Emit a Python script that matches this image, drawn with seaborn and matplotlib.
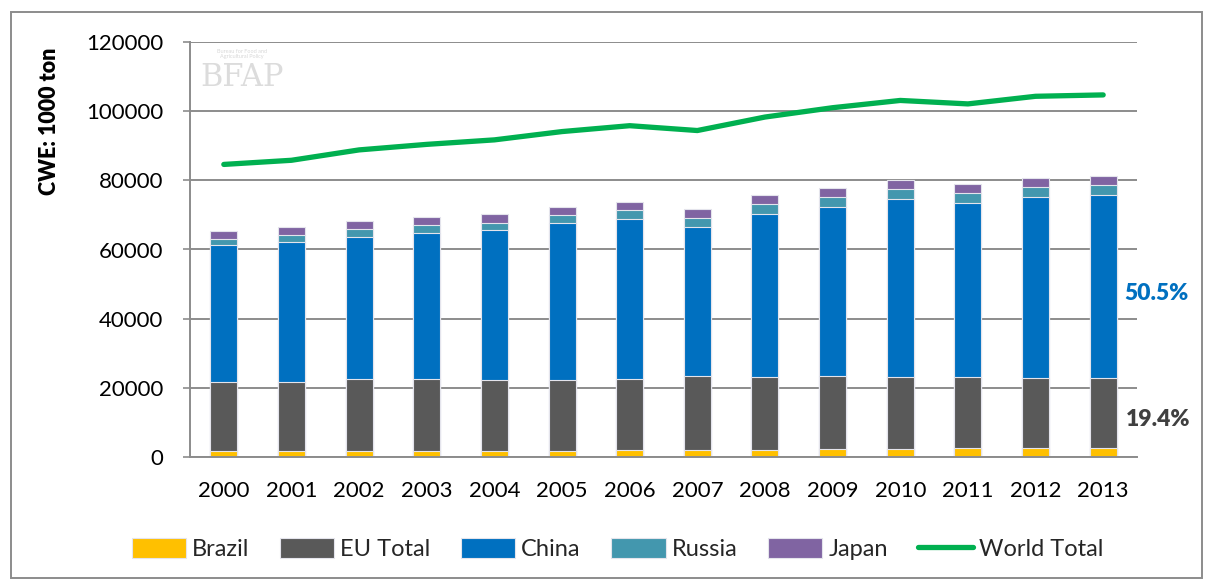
import numpy as np
import pandas as pd
import matplotlib
matplotlib.use("Agg")
import matplotlib.pyplot as plt
from matplotlib.patches import Rectangle
import seaborn as sns

years = [2000, 2001, 2002, 2003, 2004, 2005, 2006, 2007, 2008, 2009, 2010, 2011, 2012, 2013]
brazil = [1600, 1700, 1800, 1800, 1800, 1800, 2000, 2000, 2100, 2200, 2400, 2500, 2500, 2500]
eu_total = [20200, 20100, 20760, 20760, 20580, 20580, 20670, 21550, 21160, 21140, 20860, 20760, 20460, 20460]
china = [39620, 40400, 41190, 42160, 43210, 45240, 46110, 42910, 46980, 48930, 51340, 50170, 52220, 52800]
russia = [1660, 2050, 2240, 2430, 2140, 2440, 2530, 2610, 2820, 3020, 2900, 3020, 3020, 3020]
japan = [2320, 2120, 2320, 2330, 2620, 2320, 2530, 2530, 2610, 2410, 2730, 2620, 2610, 2610]
world_total = [84600, 85800, 88800, 90400, 91700, 94100, 95800, 94400, 98300, 101000, 103100, 102100, 104300, 104700]
yticks = [0, 20000, 40000, 60000, 80000, 100000, 120000]

series_names = ["Brazil", "EU Total", "China", "Russia", "Japan"]
series_vals = [brazil, eu_total, china, russia, japan]
colors = {"Brazil": "#FFC000", "EU Total": "#595959", "China": "#0070C0",
          "Russia": "#4397AE", "Japan": "#8064A2", "World Total": "#00B050"}

cum = np.cumsum(np.array(series_vals), axis=0)

sns.set_style("white")
plt.rcParams["font.family"] = ["Lato", "DejaVu Sans"]

fig = plt.figure(figsize=(12.08, 5.81), dpi=100)
ax = fig.add_axes([190 / 1208, 1 - 457 / 581, (1137 - 190) / 1208, (457 - 42) / 581])

# draw cumulative stacks from tallest to shortest
for i in range(len(series_names) - 1, -1, -1):
    name = series_names[i]
    sns.barplot(x=years, y=cum[i], native_scale=True, width=0.4, color=colors[name],
                saturation=1, errorbar=None, ax=ax, label=name,
                edgecolor="#E4E4EC", linewidth=0.8, zorder=2)

sns.lineplot(x=years, y=world_total, color=colors["World Total"], linewidth=3.8,
             ax=ax, label="World Total", solid_capstyle="round", zorder=3)

ax.set_xlim(years[0] - 0.5, years[-1] + 0.5)
ax.set_ylim(0, 120000)
ax.set_yticks(yticks)
ax.set_yticklabels([str(v) for v in yticks])
ax.set_xticks(years)
ax.set_xticklabels([str(y) for y in years])
ax.yaxis.grid(True, color="#8C8C8C", linewidth=1.4)
ax.xaxis.grid(False)
ax.set_axisbelow(True)
for s in ["top", "right"]:
    ax.spines[s].set_visible(False)
for s in ["left", "bottom"]:
    ax.spines[s].set_color("#8C8C8C")
    ax.spines[s].set_linewidth(1.4)
ax.tick_params(axis="y", which="both", left=True, length=5, width=1.2, color="#8C8C8C",
               labelsize=16, pad=14, labelcolor="black")
ax.tick_params(axis="x", length=0, labelsize=16, pad=17, labelcolor="black")
ax.set_xlabel("")
ax.set_ylabel("")

fig.text(50 / 1208, 1 - 121 / 581, "CWE: 1000 ton", rotation=90, ha="center", va="center",
         fontsize=15.5, fontweight="heavy", color="black")

fig.text(1124 / 1208, 1 - 294 / 581, "50.5%", ha="left", va="center", fontsize=16.5,
         fontweight="heavy", color="#0070C0")
fig.text(1126 / 1208, 1 - 419 / 581, "19.4%", ha="left", va="center", fontsize=16.5,
         fontweight="heavy", color="#404040")

# faint watermark logo text
fig.text(242 / 1208, 1 - 78 / 581, "BFAP", ha="center", va="center", fontsize=22,
         family="DejaVu Serif", color="#DCDCDC", zorder=0)
fig.text(242 / 1208, 1 - 54 / 581, "Bureau for Food and\nAgricultural Policy", ha="center",
         va="center", fontsize=4, color="#D8D8D8", zorder=0)

handles, labels = ax.get_legend_handles_labels()
hmap = dict(zip(labels, handles))
order = ["Brazil", "EU Total", "China", "Russia", "Japan", "World Total"]
if ax.get_legend() is not None:
    ax.get_legend().remove()
fig.legend([hmap[o] for o in order], order, loc="center", bbox_to_anchor=(0.511, 1 - 549 / 581),
           ncol=6, frameon=False, fontsize=17, handlelength=2.3, handleheight=0.9,
           handletextpad=0.25, columnspacing=1.3)

fig.patches.append(Rectangle((11 / 1208, 3 / 581), (1202 - 11) / 1208, (578 - 12) / 581,
                             transform=fig.transFigure, fill=False, edgecolor="#8C8C8C",
                             linewidth=1.4))

fig.savefig("out.png", dpi=100)
